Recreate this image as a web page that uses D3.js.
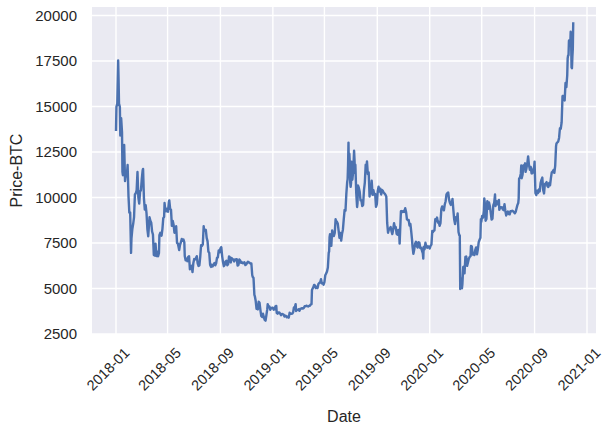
<!DOCTYPE html>
<html><head><meta charset="utf-8">
<script src="https://cdn.jsdelivr.net/npm/d3@7"></script>
<style>body{margin:0;background:#fff}</style></head>
<body><svg id="c" width="608" height="426"></svg>
<script>
const dates = [
"2018-01-01","2018-01-02","2018-01-04","2018-01-06","2018-01-07","2018-01-08","2018-01-10","2018-01-11","2018-01-13","2018-01-15","2018-01-16","2018-01-17","2018-01-18","2018-01-20","2018-01-22","2018-01-24","2018-01-26","2018-01-28","2018-01-30",
"2018-02-01","2018-02-03","2018-02-05","2018-02-06","2018-02-08","2018-02-10","2018-02-12","2018-02-14","2018-02-16","2018-02-18","2018-02-20","2018-02-22","2018-02-24","2018-02-26","2018-02-28",
"2018-03-02","2018-03-04","2018-03-05","2018-03-07","2018-03-09","2018-03-11","2018-03-13","2018-03-15","2018-03-17","2018-03-18","2018-03-20","2018-03-22","2018-03-24","2018-03-26","2018-03-28","2018-03-30",
"2018-04-01","2018-04-03","2018-04-05","2018-04-07","2018-04-09","2018-04-11","2018-04-12","2018-04-14","2018-04-17","2018-04-19","2018-04-21","2018-04-23","2018-04-24","2018-04-26","2018-04-28","2018-04-30",
"2018-05-02","2018-05-04","2018-05-05","2018-05-07","2018-05-09","2018-05-11","2018-05-13","2018-05-15","2018-05-17","2018-05-19","2018-05-21","2018-05-23","2018-05-25","2018-05-28","2018-05-30",
"2018-06-01","2018-06-03","2018-06-05","2018-06-07","2018-06-09","2018-06-10","2018-06-12","2018-06-14","2018-06-16","2018-06-18","2018-06-20","2018-06-22","2018-06-24","2018-06-26","2018-06-28","2018-06-30",
"2018-07-02","2018-07-04","2018-07-06","2018-07-08","2018-07-10","2018-07-12","2018-07-14","2018-07-16","2018-07-18","2018-07-20","2018-07-22","2018-07-24","2018-07-25","2018-07-27","2018-07-29","2018-07-31",
"2018-08-02","2018-08-04","2018-08-06","2018-08-08","2018-08-10","2018-08-11","2018-08-13","2018-08-14","2018-08-16","2018-08-18","2018-08-20","2018-08-22","2018-08-24","2018-08-26","2018-08-28","2018-08-30",
"2018-09-01","2018-09-03","2018-09-05","2018-09-07","2018-09-09","2018-09-11","2018-09-13","2018-09-15","2018-09-17","2018-09-19","2018-09-21","2018-09-23","2018-09-25","2018-09-27","2018-09-29",
"2018-10-01","2018-10-03","2018-10-05","2018-10-07","2018-10-09","2018-10-11","2018-10-13","2018-10-15","2018-10-17","2018-10-19","2018-10-21","2018-10-23","2018-10-25","2018-10-27","2018-10-29","2018-10-31",
"2018-11-02","2018-11-04","2018-11-06","2018-11-08","2018-11-10","2018-11-12","2018-11-14","2018-11-15","2018-11-17","2018-11-19","2018-11-20","2018-11-22","2018-11-24","2018-11-25","2018-11-27","2018-11-29",
"2018-12-01","2018-12-03","2018-12-05","2018-12-07","2018-12-09","2018-12-11","2018-12-13","2018-12-15","2018-12-17","2018-12-19","2018-12-20","2018-12-22","2018-12-24","2018-12-26","2018-12-28","2018-12-30",
"2019-01-01","2019-01-03","2019-01-05","2019-01-07","2019-01-09","2019-01-10","2019-01-12","2019-01-14","2019-01-16","2019-01-18","2019-01-20","2019-01-22","2019-01-24","2019-01-26","2019-01-28","2019-01-30",
"2019-02-01","2019-02-03","2019-02-05","2019-02-07","2019-02-09","2019-02-11","2019-02-13","2019-02-15","2019-02-17","2019-02-19","2019-02-21","2019-02-23","2019-02-24","2019-02-26","2019-02-28",
"2019-03-02","2019-03-04","2019-03-06","2019-03-08","2019-03-10","2019-03-12","2019-03-14","2019-03-16","2019-03-18","2019-03-20","2019-03-22","2019-03-24","2019-03-26","2019-03-28","2019-03-30",
"2019-04-01","2019-04-02","2019-04-03","2019-04-05","2019-04-07","2019-04-09","2019-04-11","2019-04-13","2019-04-15","2019-04-17","2019-04-19","2019-04-21","2019-04-23","2019-04-25","2019-04-27","2019-04-29",
"2019-05-01","2019-05-03","2019-05-05","2019-05-07","2019-05-09","2019-05-11","2019-05-12","2019-05-13","2019-05-14","2019-05-16","2019-05-17","2019-05-19","2019-05-21","2019-05-23","2019-05-25","2019-05-27","2019-05-28","2019-05-30",
"2019-06-01","2019-06-03","2019-06-05","2019-06-07","2019-06-09","2019-06-11","2019-06-13","2019-06-15","2019-06-17","2019-06-19","2019-06-21","2019-06-23","2019-06-24","2019-06-25","2019-06-26","2019-06-27","2019-06-28","2019-06-29","2019-06-30",
"2019-07-01","2019-07-02","2019-07-03","2019-07-05","2019-07-07","2019-07-09","2019-07-10","2019-07-11","2019-07-12","2019-07-14","2019-07-16","2019-07-17","2019-07-18","2019-07-20","2019-07-22","2019-07-24","2019-07-26","2019-07-28","2019-07-30",
"2019-08-01","2019-08-03","2019-08-05","2019-08-06","2019-08-08","2019-08-10","2019-08-12","2019-08-14","2019-08-15","2019-08-17","2019-08-19","2019-08-21","2019-08-23","2019-08-25","2019-08-27","2019-08-29","2019-08-31",
"2019-09-02","2019-09-04","2019-09-06","2019-09-08","2019-09-10","2019-09-12","2019-09-14","2019-09-16","2019-09-18","2019-09-20","2019-09-22","2019-09-24","2019-09-26","2019-09-28","2019-09-30",
"2019-10-02","2019-10-04","2019-10-06","2019-10-08","2019-10-10","2019-10-12","2019-10-14","2019-10-16","2019-10-18","2019-10-20","2019-10-22","2019-10-23","2019-10-25","2019-10-26","2019-10-28","2019-10-30",
"2019-11-01","2019-11-03","2019-11-05","2019-11-07","2019-11-09","2019-11-11","2019-11-13","2019-11-15","2019-11-17","2019-11-19","2019-11-21","2019-11-22","2019-11-24","2019-11-26","2019-11-28","2019-11-30",
"2019-12-02","2019-12-04","2019-12-06","2019-12-08","2019-12-10","2019-12-12","2019-12-14","2019-12-16","2019-12-17","2019-12-18","2019-12-20","2019-12-22","2019-12-24","2019-12-26","2019-12-28","2019-12-30",
"2020-01-01","2020-01-03","2020-01-05","2020-01-07","2020-01-08","2020-01-10","2020-01-12","2020-01-14","2020-01-16","2020-01-18","2020-01-20","2020-01-22","2020-01-24","2020-01-26","2020-01-28","2020-01-30",
"2020-02-01","2020-02-03","2020-02-05","2020-02-07","2020-02-09","2020-02-11","2020-02-13","2020-02-15","2020-02-17","2020-02-19","2020-02-21","2020-02-23","2020-02-25","2020-02-27","2020-02-29",
"2020-03-02","2020-03-04","2020-03-06","2020-03-08","2020-03-10","2020-03-11","2020-03-12","2020-03-13","2020-03-15","2020-03-16","2020-03-17","2020-03-19","2020-03-20","2020-03-22","2020-03-24","2020-03-26","2020-03-28","2020-03-30",
"2020-04-01","2020-04-03","2020-04-05","2020-04-06","2020-04-08","2020-04-10","2020-04-12","2020-04-14","2020-04-16","2020-04-18","2020-04-20","2020-04-22","2020-04-24","2020-04-26","2020-04-28","2020-04-29","2020-04-30",
"2020-05-02","2020-05-04","2020-05-06","2020-05-07","2020-05-09","2020-05-10","2020-05-12","2020-05-14","2020-05-16","2020-05-18","2020-05-20","2020-05-22","2020-05-24","2020-05-26","2020-05-28","2020-05-30",
"2020-06-01","2020-06-02","2020-06-04","2020-06-06","2020-06-08","2020-06-10","2020-06-11","2020-06-13","2020-06-15","2020-06-17","2020-06-19","2020-06-21","2020-06-23","2020-06-25","2020-06-27","2020-06-29",
"2020-07-01","2020-07-03","2020-07-05","2020-07-07","2020-07-09","2020-07-11","2020-07-13","2020-07-15","2020-07-17","2020-07-19","2020-07-21","2020-07-23","2020-07-25","2020-07-26","2020-07-27","2020-07-29","2020-07-31",
"2020-08-01","2020-08-02","2020-08-04","2020-08-06","2020-08-08","2020-08-10","2020-08-11","2020-08-13","2020-08-15","2020-08-17","2020-08-19","2020-08-21","2020-08-23","2020-08-25","2020-08-27","2020-08-29","2020-08-31",
"2020-09-01","2020-09-03","2020-09-05","2020-09-07","2020-09-09","2020-09-11","2020-09-13","2020-09-15","2020-09-17","2020-09-19","2020-09-21","2020-09-23","2020-09-25","2020-09-27","2020-09-29",
"2020-10-01","2020-10-03","2020-10-05","2020-10-07","2020-10-09","2020-10-11","2020-10-13","2020-10-15","2020-10-17","2020-10-19","2020-10-21","2020-10-22","2020-10-24","2020-10-26","2020-10-28","2020-10-30",
"2020-11-01","2020-11-03","2020-11-05","2020-11-06","2020-11-08","2020-11-10","2020-11-12","2020-11-14","2020-11-16","2020-11-17","2020-11-18","2020-11-19","2020-11-20","2020-11-21","2020-11-22","2020-11-23","2020-11-24","2020-11-25","2020-11-26","2020-11-27","2020-11-28","2020-11-29","2020-11-30"
];
const priceBTC = [
13657,14982,15156,17527,16477,15170,14973,13405,14360,13582,11403,11225,11403,12890,10903,11359,11171,11786,10106,
9170,9175,6955,7754,8265,8556,8926,10166,10233,10397,11403,10005,9664,10326,10397,
11013,11497,11573,9951,9337,9579,9139,8269,7869,8223,8914,8720,8617,8130,7960,6844,
6813,7456,6782,7023,6770,6953,7928,8059,7902,8264,8863,8940,9697,9237,9393,9240,
9219,9748,9843,9377,9325,8441,8716,8504,8064,8247,8419,7505,7475,7118,7404,
7541,7720,7625,7688,7531,6786,6549,6637,6499,6734,6770,6052,6162,6253,5903,6404,
6618,6598,6673,6775,6385,6240,6276,6739,7378,7338,7419,8424,8181,8230,8220,7780,
7605,7031,6953,6305,6187,6308,6275,6215,6322,6396,6272,6390,6685,6711,7097,6985,
7201,7273,6780,6452,6226,6303,6489,6519,6279,6343,6763,6709,6433,6678,6625,
6589,6484,6595,6603,6615,6259,6303,6596,6540,6413,6443,6385,6404,6438,6290,6318,
6404,6475,6436,6410,6371,6373,5738,5648,5578,4651,4585,4329,3880,4009,3857,4278,
4214,3820,3486,3433,3614,3425,3279,3236,3545,3866,4141,3980,4016,3833,3923,3941,
3943,3836,3849,4023,4040,3657,3613,3689,3686,3617,3537,3598,3584,3570,3458,3508,
3487,3414,3461,3399,3666,3616,3612,3618,3677,3953,3937,4142,3759,3816,3823,
3855,3773,3896,3895,3918,3896,3929,4024,4028,4057,4035,4015,4044,4054,4119,
4143,4906,4973,5059,5200,5170,5021,5082,5026,5246,5308,5332,5510,5281,5293,5210,
5350,5727,5830,5939,6151,6960,7039,7822,7981,7884,7344,8193,7957,7882,8052,8805,8720,8665,
8574,8179,7787,8055,7628,8007,8231,8815,9318,9274,10209,10855,11011,11790,13017,11183,12407,11959,10817,
10583,10801,11961,10978,11450,12568,12099,11343,11797,10256,9477,9693,10666,10535,10325,9844,9848,9529,9590,
10400,10822,11803,11478,11983,11283,11385,10051,10311,10231,10917,10144,10407,10144,10197,9485,9630,
10344,10594,10323,10482,10168,10415,10363,10262,10218,10156,10047,8603,8063,8246,8294,
8374,8156,7988,8245,8587,8321,8374,8000,7952,8223,8023,7467,8660,9244,9256,9199,
9261,9208,9412,9205,8805,8757,8762,8457,8550,8120,7642,7296,6903,7146,7463,7569,
7320,7253,7547,7511,7222,7243,7083,6932,6640,7277,7150,7511,7322,7238,7317,7292,
7200,7345,7411,8163,8079,8166,8192,8813,8723,8897,8627,8660,8445,8595,9358,9508,
9393,9293,9613,9795,10167,10237,10275,9898,9706,9593,9667,9924,9316,8785,8543,
8915,8755,9122,8108,7910,7911,4970,5563,5392,5014,5226,6191,6198,5830,6734,6758,6242,6430,
6642,6733,6776,7334,7302,6865,6909,6843,7116,7257,6881,7145,7550,7679,7788,8801,8658,
8983,8897,9268,9951,9522,8724,8821,9795,9379,9725,9522,9170,8790,8835,9575,9700,
10167,9529,9794,9626,9757,9869,9321,9475,9450,9467,9346,9303,9629,9260,9009,9190,
9232,9087,9073,9253,9244,9277,9243,9192,9133,9208,9392,9581,9696,9934,11029,11100,11323,
11759,11054,11246,11754,11712,11879,11410,11584,11865,12254,11779,11521,11676,11323,11332,11542,11680,
11970,10246,10131,10369,10242,10442,10335,10796,10970,11095,10417,10225,10745,10775,10844,
10619,10575,10793,10669,11064,11384,11425,11505,11355,11742,12823,12965,13031,13075,13271,13804,
13781,14133,15565,15588,15479,15332,16291,16068,16717,17645,17804,17817,18621,18642,18370,18364,19107,18732,17150,17108,17717,18177,19625
];
const yTicks = [2500, 5000, 7500, 10000, 12500, 15000, 17500, 20000];
const xTickLabels = ["2018-01","2018-05","2018-09","2019-01","2019-05","2019-09","2020-01","2020-05","2020-09","2021-01"];
const xLabel = "Date", yLabel = "Price-BTC";

const svg = d3.select("#c");
const L = 92, R = 596, T = 7, B = 334;
const parse = d3.utcParse("%Y-%m-%d");
const tickParse = d3.utcParse("%Y-%m");
const x = d3.scaleUtc().domain([parse("2018-01-01"), parse("2021-01-01")]).range([116, 587]);
const y = d3.scaleLinear().domain([2500, 20000]).range([334, 15.5]);
const data = dates.map((d, i) => ({date: parse(d), v: priceBTC[i]}));
const font = "'Liberation Sans', Arial, sans-serif";
const txt = "#262626";

svg.append("rect").attr("x", L).attr("y", T).attr("width", R - L).attr("height", B - T).attr("fill", "#eaeaf2");
svg.append("clipPath").attr("id", "pc").append("rect").attr("x", L).attr("y", T).attr("width", R - L).attr("height", B - T);

const xTicks = xTickLabels.map(s => tickParse(s));
const gx = svg.append("g").attr("clip-path", "url(#pc)");
gx.selectAll("line.v").data(xTicks).join("line")
  .attr("x1", d => x(d)).attr("x2", d => x(d)).attr("y1", T).attr("y2", B)
  .attr("stroke", "#fff").attr("stroke-width", 1.4);
gx.selectAll("line.h").data(yTicks).join("line")
  .attr("y1", d => y(d)).attr("y2", d => y(d)).attr("x1", L).attr("x2", R)
  .attr("stroke", "#fff").attr("stroke-width", 1.4);

const line = d3.line().x(d => x(d.date)).y(d => y(d.v));
svg.append("path").datum(data).attr("d", line).attr("fill", "none")
  .attr("stroke", "#4c72b0").attr("stroke-width", 2.4).attr("stroke-linejoin", "round");

svg.selectAll("text.yt").data(yTicks).join("text")
  .attr("x", 77).attr("y", d => y(d)).attr("dy", "0.36em")
  .attr("text-anchor", "end").attr("font-family", font).attr("font-size", 15).attr("fill", txt)
  .text(d => d);

svg.selectAll("text.xt").data(xTicks).join("text")
  .attr("transform", (d) => `translate(${x(d) - 8},${369}) rotate(-45)`)
  .attr("text-anchor", "middle").attr("dy", "0.35em")
  .attr("font-family", font).attr("font-size", 14.5).attr("fill", txt)
  .text((d, i) => xTickLabels[i]);

svg.append("text").attr("x", (L + R) / 2).attr("y", 416).attr("dy", "0.35em")
  .attr("text-anchor", "middle").attr("font-family", font).attr("font-size", 16).attr("fill", txt).text(xLabel);
svg.append("text").attr("transform", `translate(16,${(T + B) / 2}) rotate(-90)`).attr("dy", "0.35em")
  .attr("text-anchor", "middle").attr("font-family", font).attr("font-size", 16).attr("fill", txt).text(yLabel);
</script></body></html>
